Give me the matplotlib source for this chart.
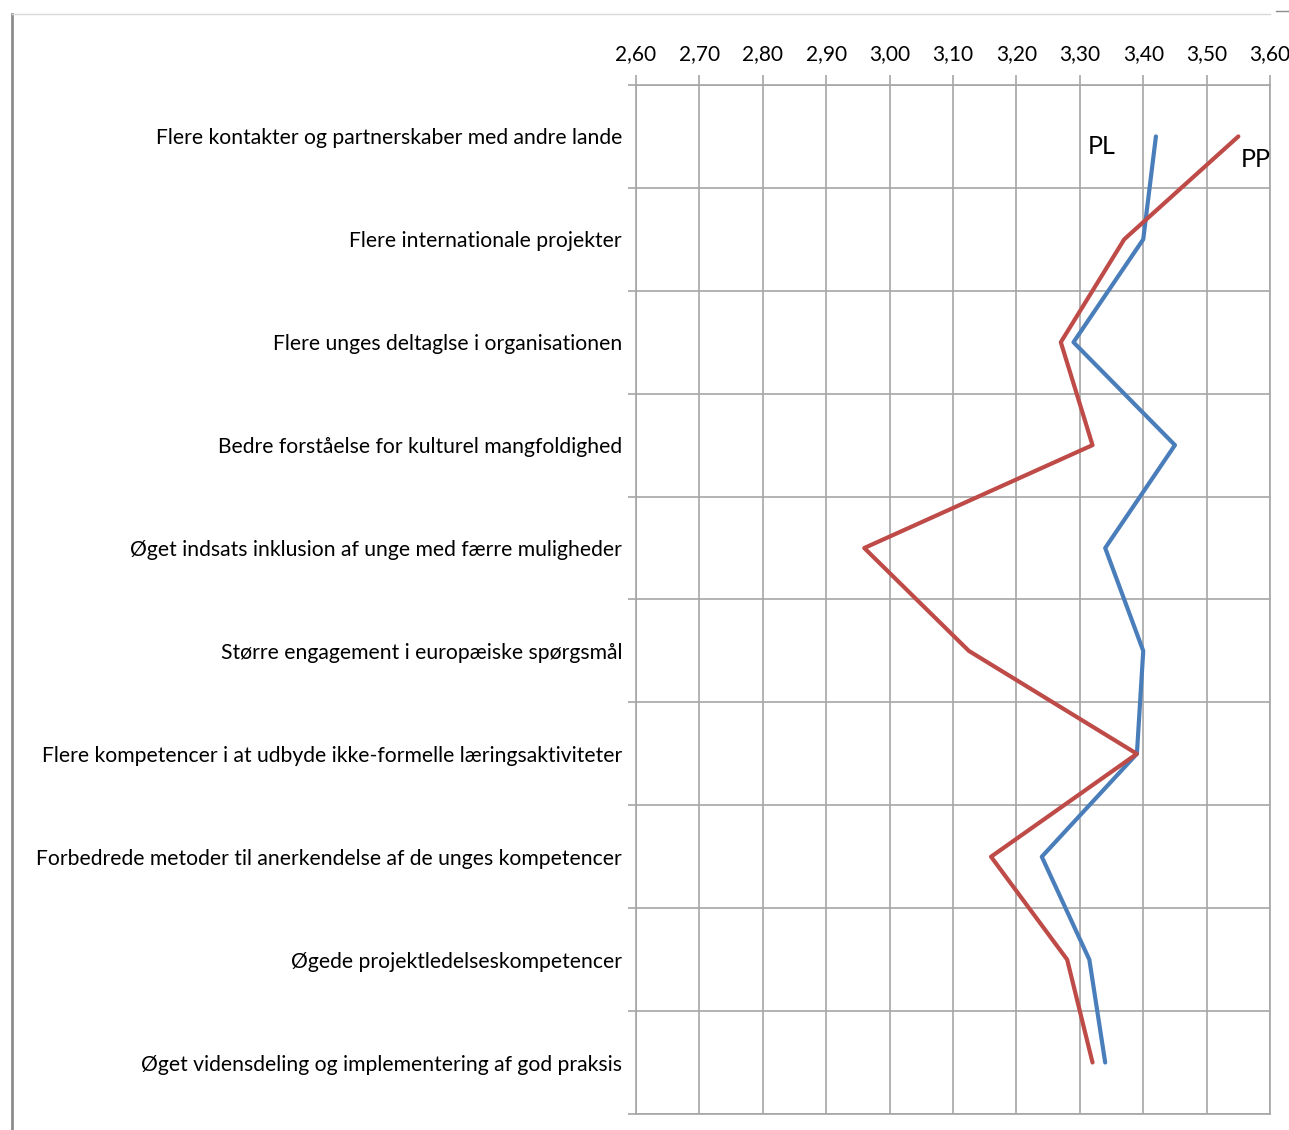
import matplotlib.pyplot as plt
from matplotlib.lines import Line2D
from matplotlib.ticker import FixedLocator, FuncFormatter

plt.rcParams["font.family"] = ["Lato", "DejaVu Sans"]

categories = [
    "Flere kontakter og partnerskaber med andre lande",
    "Flere internationale projekter",
    "Flere unges deltaglse i organisationen",
    "Bedre forståelse for kulturel mangfoldighed",
    "Øget indsats inklusion af unge med færre muligheder",
    "Større engagement i europæiske spørgsmål",
    "Flere kompetencer i at udbyde ikke-formelle læringsaktiviteter",
    "Forbedrede metoder til anerkendelse af de unges kompetencer",
    "Øgede projektledelseskompetencer",
    "Øget vidensdeling og implementering af god praksis",
]
pl_values = [3.42, 3.40, 3.29, 3.45, 3.34, 3.40, 3.39, 3.24, 3.315, 3.34]
pp_values = [3.55, 3.37, 3.27, 3.32, 2.96, 3.125, 3.39, 3.16, 3.28, 3.32]
x_ticks = [2.6, 2.7, 2.8, 2.9, 3.0, 3.1, 3.2, 3.3, 3.4, 3.5, 3.6]

grid_color = "#a6a6a6"
blue = "#4a7ebb"
red = "#be4b48"

fig = plt.figure(figsize=(12.89, 11.30), dpi=100)
ax = fig.add_axes([0.4934, 0.0142, 0.4919, 0.9106])

positions = list(range(1, len(categories) + 1))
ax.plot(pl_values, positions, color=blue, lw=3, solid_capstyle="round")
ax.plot(pp_values, positions, color=red, lw=3, solid_capstyle="round")

ax.set_xlim(2.6, 3.6)
ax.set_ylim(len(categories) + 0.5, 0.5)

# value axis on top, comma decimals
ax.xaxis.tick_top()
ax.set_xticks(x_ticks)
ax.xaxis.set_major_formatter(FuncFormatter(lambda v, p: f"{v:.2f}".replace(".", ",")))
ax.tick_params(axis="x", which="major", length=7, width=1.2, color=grid_color,
               labelsize=15, pad=8, labelcolor="black")

# category labels centred, ticks between categories
ax.set_yticks(positions)
ax.set_yticklabels(categories)
ax.yaxis.set_minor_locator(FixedLocator([p + 0.5 for p in range(len(categories) + 1)]))
ax.tick_params(axis="y", which="major", length=0, pad=10, labelsize=15.2)
ax.tick_params(axis="y", which="minor", length=6, width=1.2, color=grid_color)

ax.grid(True, axis="x", which="major", color=grid_color, lw=1.2)
ax.grid(True, axis="y", which="minor", color=grid_color, lw=1.2)
for spine in ax.spines.values():
    spine.set_color(grid_color)
    spine.set_linewidth(1.2)

ax.text(3.335, 1.1, "PL", fontsize=18, ha="center", va="center")
ax.text(3.577, 1.22, "PP", fontsize=18, ha="center", va="center")

# outer frame lines of the original screenshot
fig.add_artist(Line2D([0.0093, 0.0093], [0.0, 0.988], color="#8c8c8c", lw=2))
fig.add_artist(Line2D([0.0093, 0.985], [0.988, 0.988], color="#d9d9d9", lw=1))
fig.add_artist(Line2D([0.99, 1.0], [0.99, 0.99], color="#8c8c8c", lw=1))

fig.savefig("out.png", dpi=100)
